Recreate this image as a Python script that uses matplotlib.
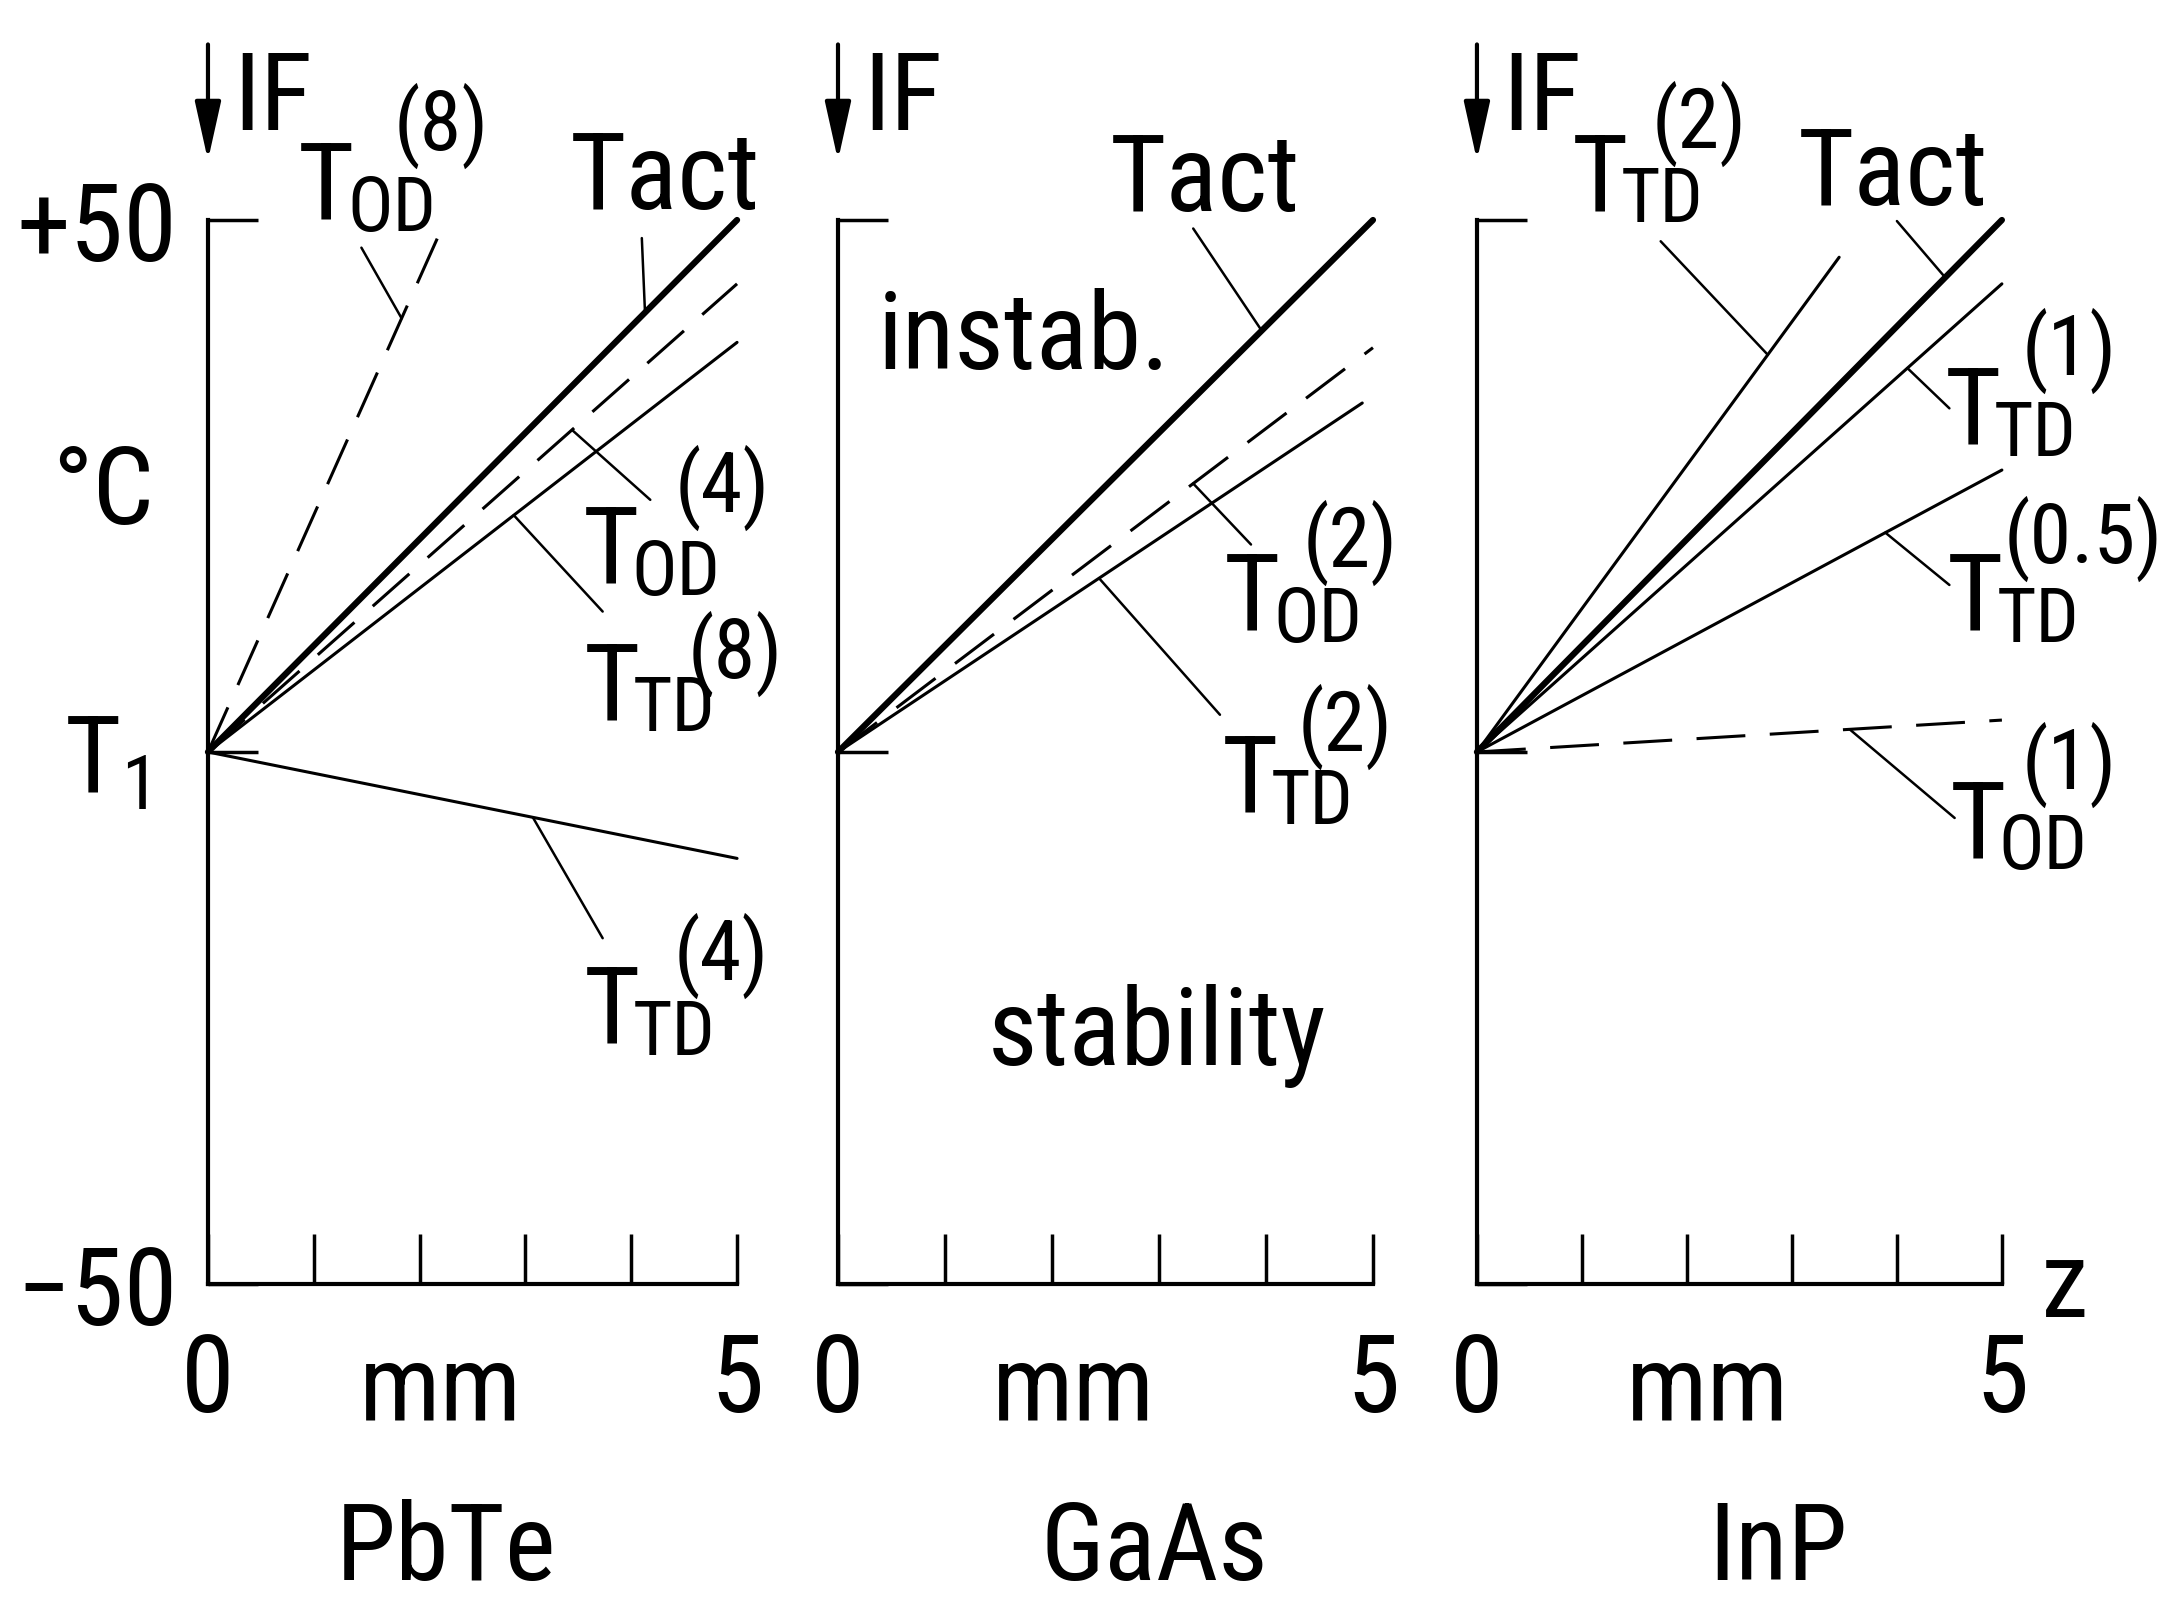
import matplotlib.pyplot as plt
import numpy as np

plt.rcParams['font.family'] = ['Roboto Condensed', 'DejaVu Sans Condensed', 'Liberation Sans Narrow',
                               'Roboto', 'DejaVu Sans']

materials = ['PbTe', 'GaAs', 'InP']
z_end = [0, 5]

# PbTe  (temperature in °C relative to T1, z in mm)
pbte_tact = [0, 50]
pbte_tod8_z = [0, 2.2]
pbte_tod8 = [0, 49]
pbte_tod4 = [0, 44]
pbte_ttd8 = [0, 38.5]
pbte_ttd4 = [0, -10]

# GaAs
gaas_tact = [0, 50]
gaas_tod2 = [0, 38]
gaas_ttd2_z = [0, 4.9]
gaas_ttd2 = [0, 32.8]

# InP
inp_tact = [0, 50]
inp_ttd2_z = [0, 3.45]
inp_ttd2 = [0, 46.5]
inp_ttd1 = [0, 44]
inp_ttd05 = [0, 26.5]
inp_tod1 = [0, 3]

y_ticks = [50, 0, -50]
y_tick_labels = ['+50', r'$\mathregular{T_1}$', '\u221250']
x_ticks = [0, 1, 2, 3, 4, 5]
x_tick_labels = ['0', '', '', '', '', '5']

styles = {
    'act': dict(color='black', lw=4.5, ls='-'),
    'td': dict(color='black', lw=2.2, ls='-'),
    'od': dict(color='black', lw=2.2, ls=(0, (16, 8))),
}

# curve: z, T, style, label, label (left, baseline), leader start, z where leader meets curve,
#        superscript offset in pixels
panels = [
    [
        (z_end, pbte_tact, 'act', 'Tact', (3.42, 51), (4.10, 48.3), 4.13, None),
        (pbte_tod8_z, pbte_tod8, 'od', ('OD', '8'), (0.85, 50), (1.45, 47.4), 1.83, (96, 70)),
        (z_end, pbte_tod4, 'od', ('OD', '4'), (3.54, 15.8), (4.18, 23.7), 3.44, (92, 72)),
        (z_end, pbte_ttd8, 'td', ('TD', '8'), (3.55, 3.0), (3.73, 13.2), 2.89, (104, 42)),
        (z_end, pbte_ttd4, 'td', ('TD', '4'), (3.55, -27.4), (3.73, -17.5), 3.07, (90, 64)),
    ],
    [
        (z_end, gaas_tact, 'act', 'Tact', (2.54, 50.8), (3.32, 49.2), 3.96, None),
        (z_end, gaas_tod2, 'od', ('OD', '2'), (3.61, 11.4), (3.86, 19.5), 3.32, (78, 64)),
        (gaas_ttd2_z, gaas_ttd2, 'td', ('TD', '2'), (3.59, -5.7), (3.57, 3.5), 2.44, (76, 62)),
    ],
    [
        (z_end, inp_tact, 'act', 'Tact', (3.06, 51.4), (4.0, 49.9), 4.46, None),
        (inp_ttd2_z, inp_ttd2, 'td', ('TD', '2'), (0.90, 50.8), (1.75, 48), 2.77, (80, 64)),
        (z_end, inp_ttd1, 'td', ('TD', '1'), (4.46, 28.9), (4.50, 32.3), 4.10, (76, 70)),
        (z_end, inp_ttd05, 'td', ('TD', '0.5'), (4.48, 11.4), (4.50, 15.7), 3.89, (56, 68)),
        (z_end, inp_tod1, 'od', ('OD', '1'), (4.50, -10), (4.55, -6.2), 3.55, (72, 70)),
    ],
]

panel_left = [0.0954, 0.3844, 0.6775]
panel_width = [0.2427, 0.2454, 0.2408]
material_x = [2.25, 2.96, 2.87]
fs = 78

fig = plt.figure(figsize=(21.8, 16), dpi=100)

for i, curves in enumerate(panels):
    ax = fig.add_axes([panel_left[i], 0.1975, panel_width[i], 0.665])
    ax.set_xlim(0, 5)
    ax.set_ylim(-50, 50)
    ax.spines[['top', 'right']].set_visible(False)
    ax.spines[['left', 'bottom']].set_linewidth(3)
    ax.set_xticks(x_ticks, x_tick_labels)
    ax.set_yticks(y_ticks, y_tick_labels if i == 0 else [''] * 3)
    ax.tick_params(direction='in', length=36, width=2.5, labelsize=fs)
    ax.tick_params(axis='x', pad=34)
    ax.tick_params(axis='y', pad=22)
    if i == 0:
        ax.yaxis.get_major_ticks()[1].set_pad(44)

    for z, t, st, label, (lx, ly), (sx, sy), zl, sup in curves:
        ax.plot(z, t, clip_on=False, solid_capstyle='round', **styles[st])
        if sup is None:
            ax.text(lx, ly, label, fontsize=fs, ha='left', va='baseline')
        else:
            kind, n = label
            ax.text(lx, ly, 'T', fontsize=fs, ha='left', va='baseline')
            ax.annotate(kind, (lx, ly), xytext=(49, -11), textcoords='offset pixels',
                        fontsize=0.7 * fs, ha='left', va='baseline', annotation_clip=False)
            ax.annotate('(' + n + ')', (lx, ly), xytext=sup, textcoords='offset pixels',
                        fontsize=0.78 * fs, ha='left', va='baseline', annotation_clip=False)
        ax.annotate('', xy=(zl, np.interp(zl, z, t)), xytext=(sx, sy),
                    arrowprops=dict(arrowstyle='-', lw=1.8, color='black',
                                    shrinkA=0, shrinkB=0),
                    annotation_clip=False)

    # interface marker
    ax.annotate('', xy=(0, 55.6), xytext=(0, 66.5),
                arrowprops=dict(arrowstyle='-|>,head_length=0.9,head_width=0.2',
                                lw=3, color='black', mutation_scale=40,
                                shrinkA=0, shrinkB=0),
                annotation_clip=False)
    ax.text(0.24, 58.5, 'IF', fontsize=fs, ha='left', va='baseline')
    ax.text(2.2, -62.8, 'mm', fontsize=fs, ha='center', va='baseline')
    ax.text(material_x[i], -77.8, materials[i], fontsize=fs, ha='center', va='baseline')

    if i == 0:
        ax.text(-0.99, 24.2, '°C', fontsize=fs, ha='center', va='center')
    if i == 1:
        ax.text(0.37, 36, 'instab.', fontsize=fs, ha='left', va='baseline')
        ax.text(1.40, -29.4, 'stability', fontsize=fs, ha='left', va='baseline')
    if i == 2:
        ax.text(5.6, -53.1, 'z', fontsize=fs, ha='center', va='baseline')

fig.savefig('out.png', dpi=100)
